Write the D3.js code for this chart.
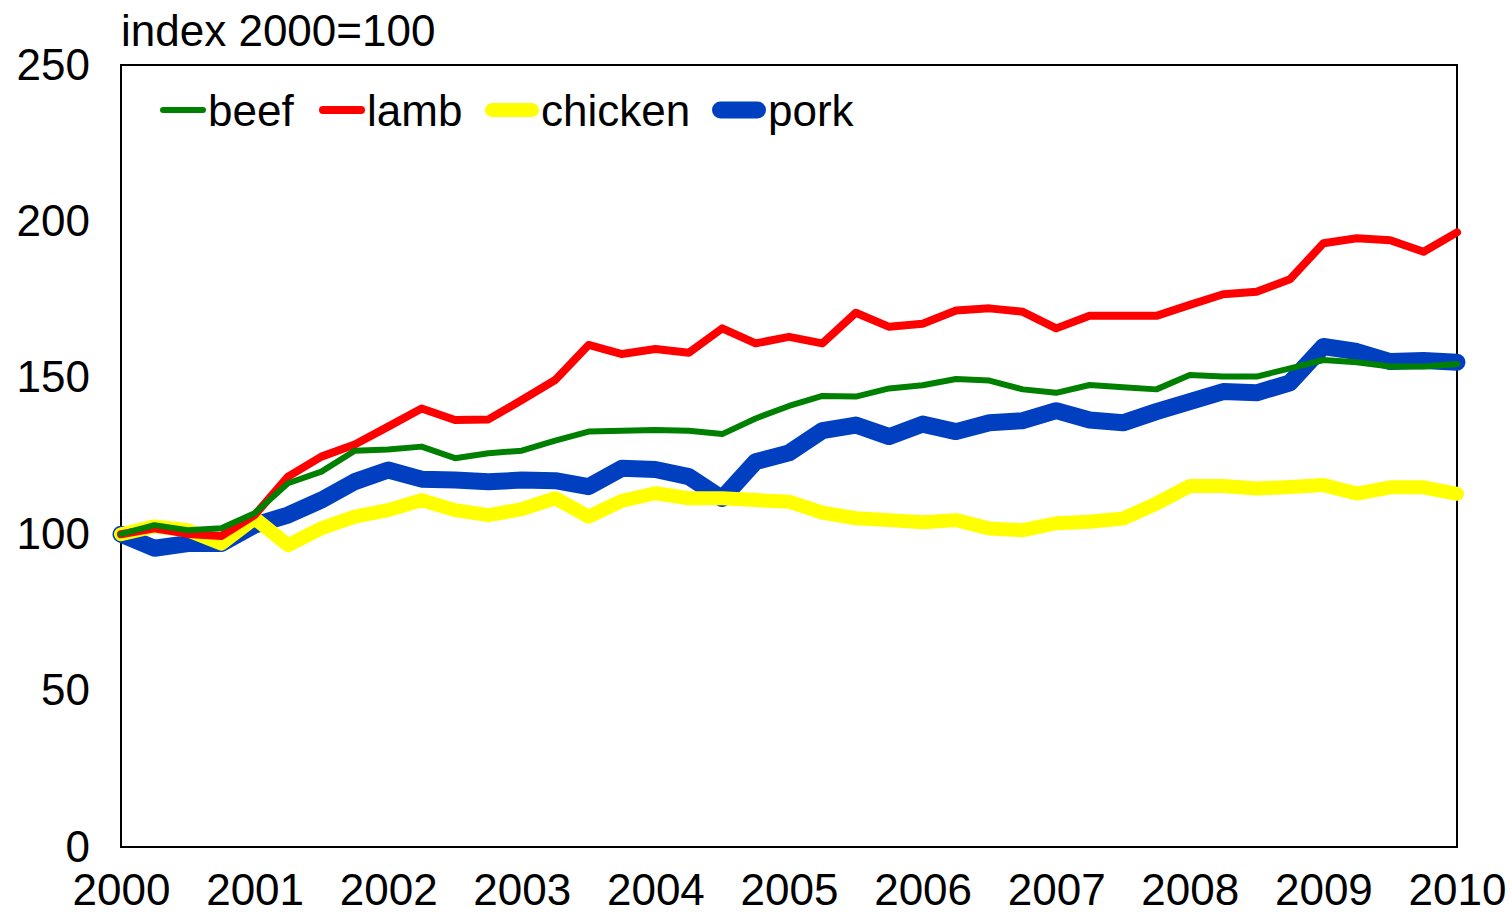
<!DOCTYPE html>
<html>
<head>
<meta charset="utf-8">
<script src="https://cdn.jsdelivr.net/npm/d3@7"></script>
<style>
  body { margin: 0; background: #fff; }
  text { font-family: "Liberation Sans", Arial, sans-serif; }
</style>
</head>
<body>
<svg id="chart" width="1512" height="915"></svg>
<script>
// quarterly index values, 2000Q1 .. 2010Q1 (41 points)
var beef = [100, 102.9, 101.3, 101.9, 106.7, 116.3, 120, 126.7, 127.1, 128, 124.3, 125.9, 126.7,
  129.9, 132.8, 133.1, 133.3, 133.1, 132, 137, 141, 144.2, 144, 146.6, 147.6,
  149.6, 149.1, 146.3, 145.2, 147.7, 147, 146.3, 150.9, 150.4, 150.4, 153, 155.7, 155, 153.6, 153.6, 154.4];
var lamb = [100, 101.9, 100.1, 99.4, 106.1, 118.4, 124.8, 128.7, 134.4, 140.2, 136.5, 136.7, 142.9,
  149.3, 160.5, 157.6, 159.2, 158, 165.8, 161, 163.1, 161, 170.8, 166.3, 167.3,
  171.5, 172.2, 171.1, 165.8, 169.8, 169.8, 169.8, 173.3, 176.7, 177.5, 181.5, 193, 194.6, 194, 190.3, 196.5];
var chicken = [100, 102.5, 101.3, 97, 105.1, 96.5, 101.9, 105.6, 107.7, 110.9, 107.7, 106.1, 108,
  111.5, 105.6, 110.7, 113.1, 111.5, 111.5, 110.9, 110.4, 106.9, 105.1, 104.5, 103.8,
  104.5, 101.8, 101.3, 103.5, 104, 105, 109.8, 115.4, 115.4, 114.6, 115.1, 115.7, 113, 115, 115, 112.9];
var pork = [100, 95.5, 97, 97, 102.9, 106.1, 110.9, 116.8, 120.5, 117.6, 117.3, 116.8, 117.3,
  117.1, 115.2, 121.1, 120.7, 118.4, 111.4, 123.2, 126, 133.1, 134.9, 131.2, 135.2,
  132.8, 135.6, 136.3, 139.5, 136.5, 135.6, 139.2, 142.4, 145.6, 145.2, 148.4, 160, 158.4, 155.2, 155.5, 155];

var years = [2000, 2001, 2002, 2003, 2004, 2005, 2006, 2007, 2008, 2009, 2010];
var yTicks = [0, 50, 100, 150, 200, 250];
var seriesNames = ["beef", "lamb", "chicken", "pork"];

var colors = {beef: "#008000", lamb: "#ff0000", chicken: "#ffff00", pork: "#0040c0"};
var widths = {beef: 6, lamb: 8, chicken: 14, pork: 17};
var legendX = [160, 319, 485, 712];

var margin = {left: 121, top: 65, right: 55, bottom: 68};
var w = 1512, h = 915;

var svg = d3.select("#chart");

var x = d3.scaleLinear().domain([2000, 2010]).range([margin.left, w - margin.right]);
var y = d3.scaleLinear().domain([0, 250]).range([h - margin.bottom, margin.top]);

// quarter -> fractional year
function qx(d, i) { return x(2000 + i / 4); }

// axes (labels only)
var yAxis = svg.append("g")
  .attr("transform", "translate(" + margin.left + ",0)")
  .call(d3.axisLeft(y).tickValues(yTicks).tickSize(0).tickPadding(31));
var xAxis = svg.append("g")
  .attr("transform", "translate(0," + (h - margin.bottom) + ")")
  .call(d3.axisBottom(x).tickValues(years).tickFormat(d3.format("d")).tickSize(0).tickPadding(27));
[yAxis, xAxis].forEach(function(a) {
  a.select(".domain").remove();
  a.selectAll("text").attr("font-size", 44).attr("fill", "#000")
    .style("font-family", "'Liberation Sans', Arial, sans-serif");
});

// plot frame
svg.append("rect")
  .attr("x", margin.left).attr("y", margin.top)
  .attr("width", w - margin.right - margin.left)
  .attr("height", h - margin.bottom - margin.top)
  .attr("fill", "none").attr("stroke", "#000").attr("stroke-width", 2);

var line = d3.line().x(qx).y(function(d) { return y(d); });
var data = {beef: beef, lamb: lamb, chicken: chicken, pork: pork};

// draw pork first so thinner lines sit on top
["pork", "chicken", "lamb", "beef"].forEach(function(k) {
  svg.append("path")
    .datum(data[k])
    .attr("d", line)
    .attr("fill", "none")
    .attr("stroke", colors[k])
    .attr("stroke-width", widths[k])
    .attr("stroke-linecap", "round")
    .attr("stroke-linejoin", "round");
});

// title
svg.append("text")
  .attr("x", 121).attr("y", 46)
  .attr("font-size", 44)
  .text("index 2000=100");

// legend
var legend = svg.selectAll(".leg")
  .data(seriesNames)
  .enter().append("g")
  .attr("class", "leg")
  .attr("transform", function(d, i) { return "translate(" + legendX[i] + ",110)"; });
legend.append("line")
  .attr("x1", function(d) { return widths[d] / 2; })
  .attr("x2", function(d) { return 46 + (widths[d] > 10 ? 8 : 0) - widths[d] / 2; })
  .attr("stroke", function(d) { return colors[d]; })
  .attr("stroke-width", function(d) { return widths[d]; })
  .attr("stroke-linecap", "round");
legend.append("text")
  .attr("x", function(d) { return 48 + (widths[d] > 10 ? 8 : 0); })
  .attr("y", 16)
  .attr("font-size", 44)
  .text(function(d) { return d; });
</script>
</body>
</html>
